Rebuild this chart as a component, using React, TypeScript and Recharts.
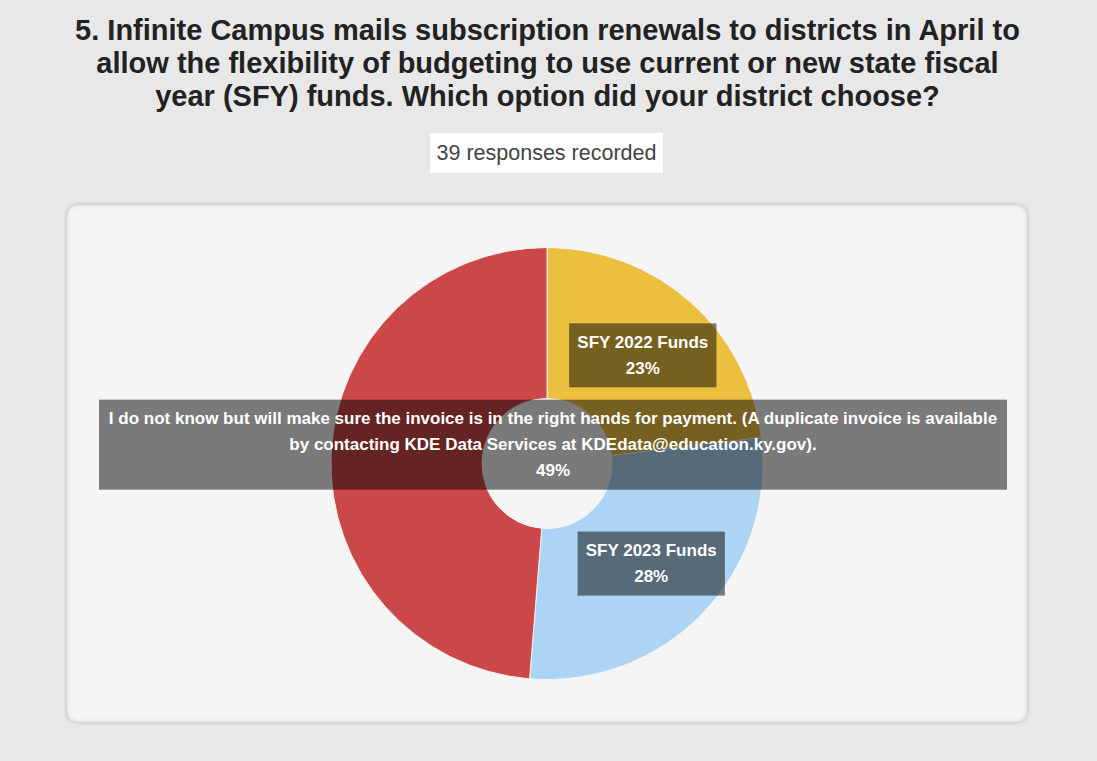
import React from 'react';
import { PieChart, Pie, Cell } from 'recharts';

const TITLE_LINES = [
  '5. Infinite Campus mails subscription renewals to districts in April to',
  'allow the flexibility of budgeting to use current or new state fiscal',
  'year (SFY) funds. Which option did your district choose?',
];
const RESPONSES = '39 responses recorded';

const options = [
  'SFY 2022 Funds',
  'SFY 2023 Funds',
  'I do not know but will make sure the invoice is in the right hands for payment. (A duplicate invoice is available by contacting KDE Data Services at KDEdata@education.ky.gov).',
];
const counts = [9, 11, 19];
const colors = ['#ecc03f', '#acd4f5', '#cc4747'];

const PANEL_W = 960;
const PANEL_H = 517;
const LABEL_FONT = "bold 17px 'Liberation Sans', Arial, sans-serif";
const LINE_H = 26;
const PAD_X = 8;
const PAD_Y = 6;
const MAX_TEXT_W = 892;

let ctx: CanvasRenderingContext2D | null = null;
function measure(text: string) {
  if (!ctx) {
    ctx = document.createElement('canvas').getContext('2d');
  }
  if (!ctx) return text.length * 9.4;
  ctx.font = LABEL_FONT;
  return ctx.measureText(text).width;
}

function wrap(text: string) {
  const words = text.split(' ');
  const lines: string[] = [];
  let cur = '';
  words.forEach(w => {
    const next = cur ? cur + ' ' + w : w;
    if (measure(next) > MAX_TEXT_W && cur) {
      lines.push(cur);
      cur = w;
    } else {
      cur = next;
    }
  });
  if (cur) lines.push(cur);
  return lines;
}

const RADIAN = Math.PI / 180;

function SliceLabel(props: any) {
  const { cx, cy, midAngle, innerRadius, outerRadius, percent, name, index } = props;
  const r = (innerRadius + outerRadius) / 2 + 4;
  const x = cx + r * Math.cos(-midAngle * RADIAN);
  const y = cy + r * Math.sin(-midAngle * RADIAN);
  const nameLines = wrap(name);
  const lines = [...nameLines, `${Math.round(percent * 100)}%`];
  const textW = nameLines.length > 1 ? MAX_TEXT_W : Math.max(...lines.map(measure));
  const w = textW + PAD_X * 2;
  const h = lines.length * LINE_H + PAD_Y * 2;
  let left = x - w / 2;
  if (left < 20 || left + w > PANEL_W - 20) left = (PANEL_W - w) / 2 + 6;
  const midY = y - (lines.length - 2) * (LINE_H / 2);
  const top = midY - h / 2;
  return (
    <g key={`lbl-${index}`}>
      <rect x={left} y={top} width={w} height={h} fill="rgba(0,0,0,0.5)" />
      {lines.map((ln, i) => (
        <text
          key={i}
          x={left + w / 2}
          y={top + PAD_Y + LINE_H * i + LINE_H / 2}
          textAnchor="middle"
          dominantBaseline="central"
          fill="#ffffff"
          style={{ font: LABEL_FONT }}
        >
          {ln}
        </text>
      ))}
    </g>
  );
}

export default function App() {
  const data = options.map((name, i) => ({ name, value: counts[i] }));

  return (
    <div
      style={{
        position: 'absolute',
        left: 0,
        top: 0,
        width: 1097,
        height: 761,
        background: '#e8e8e8',
        fontFamily: "'Liberation Sans', Arial, sans-serif",
        overflow: 'hidden',
      }}
    >
      <div
        style={{
          position: 'absolute',
          left: 0,
          top: 14,
          width: 1095,
          textAlign: 'center',
          fontSize: 29,
          lineHeight: '33px',
          fontWeight: 'bold',
          color: '#222',
          whiteSpace: 'nowrap',
        }}
      >
        {TITLE_LINES.map(t => (
          <div key={t}>{t}</div>
        ))}
      </div>
      <div
        style={{
          position: 'absolute',
          left: 430,
          top: 133,
          width: 233,
          height: 40,
          lineHeight: '40px',
          background: '#ffffff',
          textAlign: 'center',
          fontSize: 21.5,
          color: '#444',
          whiteSpace: 'nowrap',
        }}
      >
        {RESPONSES}
      </div>
      <div
        style={{
          position: 'absolute',
          left: 67,
          top: 205,
          width: PANEL_W,
          height: PANEL_H,
          borderRadius: 10,
          background: '#f5f5f5',
          boxShadow: '0 0 4px rgba(0,0,0,0.22), inset 0 0 5px rgba(0,0,0,0.12)',
        }}
      >
        <PieChart width={PANEL_W} height={PANEL_H}>
          <Pie
            data={data}
            dataKey="value"
            nameKey="name"
            cx="50%"
            cy="50%"
            innerRadius={65}
            outerRadius={216}
            startAngle={90}
            endAngle={-270}
            stroke="#f5f5f5"
            strokeWidth={1}
            labelLine={false}
            label={SliceLabel}
            isAnimationActive={false}
          >
            {data.map((d, i) => (
              <Cell key={d.name} fill={colors[i]} />
            ))}
          </Pie>
        </PieChart>
      </div>
    </div>
  );
}
